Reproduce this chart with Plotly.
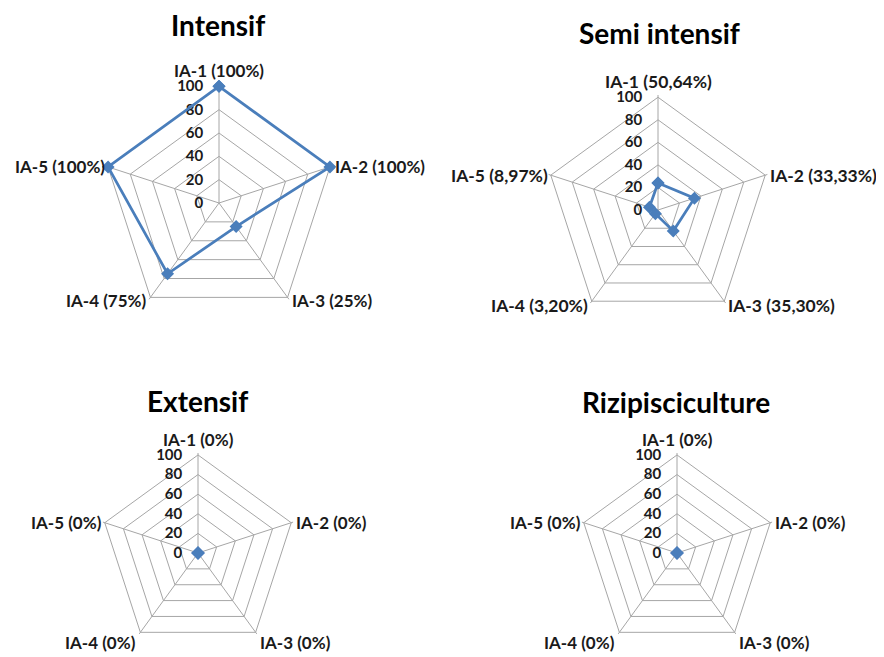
import math
import plotly.graph_objects as go

titles = ["Intensif", "Semi intensif", "Extensif", "Rizipisciculture"]
labels_intensif = ["IA-1 (100%)", "IA-2 (100%)", "IA-3 (25%)", "IA-4 (75%)", "IA-5 (100%)"]
labels_semi = ["IA-1 (50,64%)", "IA-2 (33,33%)", "IA-3 (35,30%)", "IA-4 (3,20%)", "IA-5 (8,97%)"]
labels_extensif = ["IA-1 (0%)", "IA-2 (0%)", "IA-3 (0%)", "IA-4 (0%)", "IA-5 (0%)"]
labels_rizi = ["IA-1 (0%)", "IA-2 (0%)", "IA-3 (0%)", "IA-4 (0%)", "IA-5 (0%)"]
values_intensif = [100, 100, 25, 75, 100]
values_semi = [24, 34, 23, 4, 8]
values_extensif = [0, 0, 0, 0, 0]
values_rizi = [0, 0, 0, 0, 0]
radial_ticks = [0, 20, 40, 60, 80, 100]

# page body has an 8px margin; figure fills the rest of the 884x657 window
OFF = 8
W, H = 884 - OFF, 657 - OFF
FONT = "Lato"
BLUE = "#4A7EBB"
GRID = "#A6A6A6"
TXT = "#1A1A1A"
RMAX = 102.0   # grid subplot range end
ROVER = 106.0  # data overlay range end (room for whole markers on the 100 ring)

labels_all = [labels_intensif, labels_semi, labels_extensif, labels_rizi]
values_all = [values_intensif, values_semi, values_extensif, values_rizi]

# polar geometry in window pixels: (center x, center y, radius of the grid range end)
geom = [(219, 203, 119), (658, 210, 115), (198, 553, 100), (677, 553, 100)]
title_pos = [(218, 25), (659, 33), (197, 401), (676, 402)]
label_size = [17, 17.5, 17, 17]
bottom_label_shift = [0, 1, 7, 7]

# placement of the axis-category labels around each pentagon vertex
label_anchor = [("center", "bottom", 0, -3), ("left", "middle", 3, 0), ("left", "middle", 2, 3),
                ("right", "middle", -2, 3), ("right", "middle", -1, 0)]


def px2paper(x, y):
    return (x - OFF) / W, 1 - (y - OFF) / H


def domain_for(cx, cy, rr):
    left, bottom = px2paper(cx - rr, cy + rr)
    right, top = px2paper(cx + rr, cy - rr)
    return dict(x=[max(left, 0), min(right, 1)], y=[max(bottom, 0), min(top, 1)])


fig = go.Figure()
layout = dict(width=W, height=H, margin=dict(l=0, r=0, t=0, b=0),
              paper_bgcolor="white", plot_bgcolor="white", showlegend=False,
              font=dict(family=FONT, color=TXT))
annotations = []
for i in range(4):
    grid_name = "polar" if i == 0 else f"polar{i+1}"
    over_name = f"polar{i+5}"
    labs = labels_all[i]
    vals = values_all[i]
    cx, cy, rr = geom[i]

    # grid subplot (needs a trace to be drawn; this one is invisible)
    fig.add_trace(go.Scatterpolar(
        r=vals, theta=labs, mode="markers", marker=dict(opacity=0, color=BLUE),
        subplot=grid_name, hoverinfo="skip", showlegend=False))
    layout[grid_name] = dict(
        domain=domain_for(cx, cy, rr),
        gridshape="linear", bgcolor="white",
        angularaxis=dict(rotation=90, direction="clockwise", type="category",
                         categoryorder="array", categoryarray=labs,
                         showline=False, gridcolor=GRID, gridwidth=1, ticks="",
                         showticklabels=False),
        radialaxis=dict(range=[0, RMAX], tickvals=radial_ticks, angle=90, tickangle=90,
                        side="counterclockwise", showline=False,
                        gridcolor=GRID, gridwidth=1, ticks="outside", ticklen=10,
                        tickcolor="rgba(0,0,0,0)",
                        tickfont=dict(family=FONT, size=15, color=TXT, weight="bold")),
    )
    # transparent data overlay with the same scale (100 -> same pixel radius)
    layout[over_name] = dict(
        domain=domain_for(cx, cy, rr * ROVER / RMAX),
        gridshape="linear", bgcolor="rgba(0,0,0,0)",
        angularaxis=dict(rotation=90, direction="clockwise", type="category",
                         categoryorder="array", categoryarray=labs,
                         showline=False, showgrid=False, ticks="", showticklabels=False),
        radialaxis=dict(range=[0, ROVER], showline=False, showgrid=False, ticks="",
                        showticklabels=False),
    )
    fig.add_trace(go.Scatterpolar(
        r=vals + [vals[0]], theta=labs + [labs[0]], mode="lines+markers",
        line=dict(color=BLUE, width=2.75),
        marker=dict(symbol="diamond", size=10, color=BLUE),
        subplot=over_name, cliponaxis=True))

    # category labels next to the 100-ring vertices
    r100 = rr * 100 / RMAX
    for k, lab in enumerate(labs):
        ang = math.radians(90 - 72 * k)
        vx = cx + r100 * math.cos(ang)
        vy = cy - r100 * math.sin(ang)
        xa, ya, dx, dy = label_anchor[k]
        if k in (2, 3):
            dy += bottom_label_shift[i]
        px, py = px2paper(vx + dx, vy + dy)
        annotations.append(dict(text=lab, x=px, y=py, xref="paper", yref="paper",
                                showarrow=False, xanchor=xa, yanchor=ya,
                                font=dict(family=FONT, size=label_size[i], color=TXT,
                                          weight="bold")))
    tx, ty = px2paper(*title_pos[i])
    annotations.append(dict(text=titles[i], x=tx, y=ty, xref="paper", yref="paper",
                            showarrow=False, xanchor="center", yanchor="middle",
                            font=dict(family=FONT, size=28, color="#000000", weight="bold")))
layout["annotations"] = annotations
fig.update_layout(**layout)
fig.write_html("out.html")
